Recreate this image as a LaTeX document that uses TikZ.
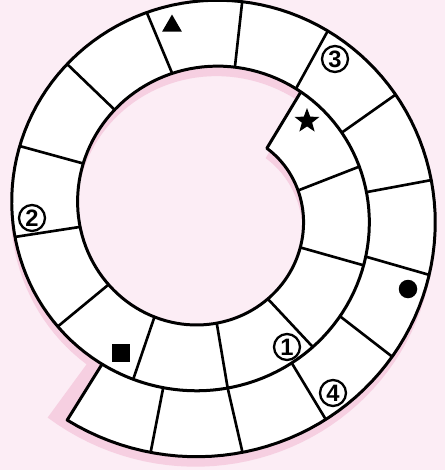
\documentclass[tikz,border=0pt]{standalone}
\usepackage{fontspec}
\setsansfont{Liberation Sans}
\usetikzlibrary{shapes.geometric}
\definecolor{Blush}{HTML}{FCEDF5}
\definecolor{Rose}{HTML}{F6CFE1}
\tikzset{
  track/.style={draw=black,fill=white,line width=1.7pt,line join=round},
  wall/.style={line width=1.5pt,draw=black},
  token/.style={fill=black,inner sep=0pt},
  numdisc/.style={circle,draw=black,line width=1.3pt,fill=white,inner sep=0pt,minimum size=0.52cm,font=\sffamily\bfseries\fontsize{13.5}{13.5}\selectfont}
}
\begin{document}
\begin{tikzpicture}[x=0.02cm,y=-0.02cm]
  \useasboundingbox[fill=Blush] (0,0) rectangle (445,470);
  \begin{scope}[shift={(206,222)}]
    \fill[Rose] plot[domain=-47:490,samples=200] ({(96+0.18333*\x)*cos(\x)},{(96+0.18333*\x)*sin(\x)})
      -- plot[domain=489:-52,samples=200] ({(162+0.18333*\x)*cos(\x)},{(162+0.18333*\x)*sin(\x)}) -- cycle;
  \end{scope}
  \begin{scope}[shift={(207,212)}]
    \draw[track] plot[domain=-46.8:484.6,samples=200] ({(96+0.18333*\x)*cos(\x)},{(96+0.18333*\x)*sin(\x)})
      -- plot[domain=483.9:-52,samples=200] ({(162+0.18333*\x)*cos(\x)},{(162+0.18333*\x)*sin(\x)}) -- cycle;
    \foreach \a/\b in {-13.3/-16.6,20.8/18.8,55/51.9,85/83.3,116.6/113.8,143.6/142.5,173.3/172.6,201.4/199.4,227.9/226.6,255.9/253.2,280.9/279.5,305.8/303.7,329.5/328.1,352.9/351.9,375.7/375.8,398.1/398,420.7/420.2,443.3/441.6,464/463.2}
      \draw[wall] ({(96+0.18333*\a)*cos(\a)},{(96+0.18333*\a)*sin(\a)}) -- ({(162+0.18333*\b)*cos(\b)},{(162+0.18333*\b)*sin(\b)});
  \end{scope}
  \node[token,regular polygon,regular polygon sides=3,minimum size=0.46cm] (tri) at (172,26) {};
  \node[token,star,star points=5,star point ratio=2.4,minimum size=0.52cm] (star) at (307,121) {};
  \node[token,minimum size=0.36cm] (sq) at (121,353) {};
  \node[token,circle,minimum size=0.37cm] (dot) at (408,289) {};
  \node[numdisc] (one) at (287,347) {1};
  \node[numdisc] (two) at (32,218) {2};
  \node[numdisc] (three) at (335,59) {3};
  \node[numdisc] (four) at (333,393) {4};
\end{tikzpicture}
\end{document}
